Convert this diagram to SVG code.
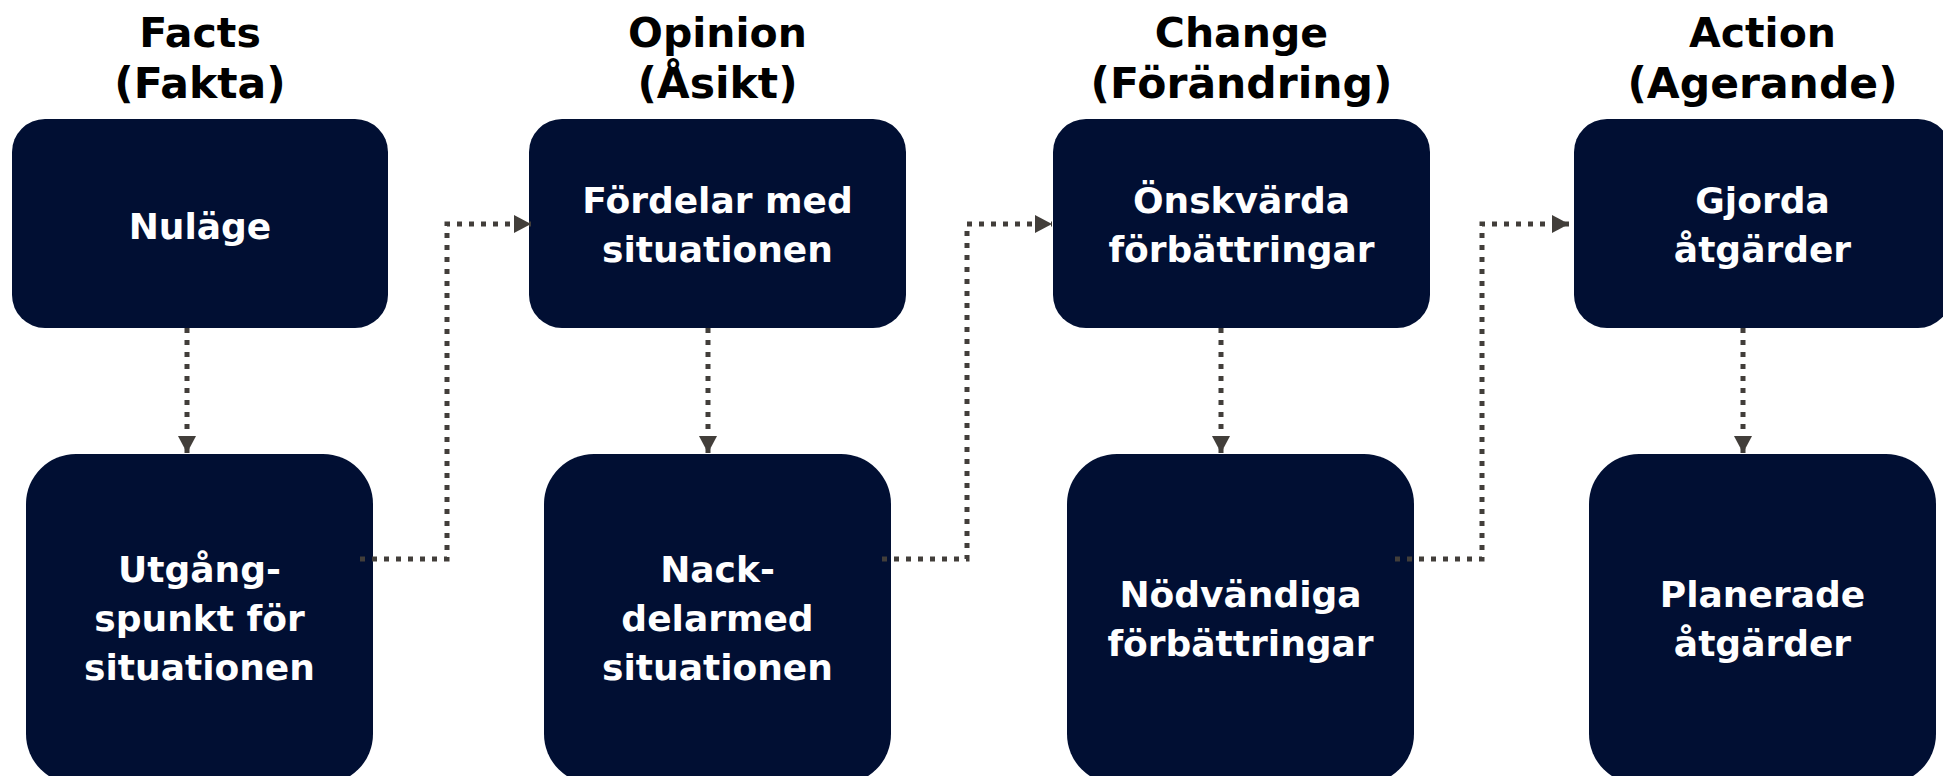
<svg xmlns="http://www.w3.org/2000/svg" width="1943" height="776" viewBox="0 0 1943 776">
<style>
.box{fill:#010f33;}
.t{font-family:"DejaVu Sans",Verdana,sans-serif;font-weight:bold;font-size:36px;fill:#ffffff;text-anchor:middle;}
.h{font-family:"DejaVu Sans",Verdana,sans-serif;font-weight:bold;font-size:41px;fill:#000000;text-anchor:middle;}
.h2{font-size:42.5px;}
.c{fill:none;stroke:#423e3a;stroke-width:5;stroke-dasharray:5 7;}
</style>
<defs>
<marker id="arr" markerUnits="userSpaceOnUse" markerWidth="18" markerHeight="18" refX="17" refY="9" orient="auto">
<path d="M0,0 L17,9 L0,18 Z" fill="#423e3a"/>
</marker>
</defs>
<rect width="1943" height="776" fill="#ffffff"/>
<g id="titles">
<text class="h" x="200" y="47">Facts</text>
<text class="h h2" x="200" y="98">(Fakta)</text>
<text class="h" x="717.5" y="47">Opinion</text>
<text class="h h2" x="717.5" y="98">(Åsikt)</text>
<text class="h" x="1241.5" y="47">Change</text>
<text class="h h2" x="1241.5" y="98">(Förändring)</text>
<text class="h" x="1762.5" y="47">Action</text>
<text class="h h2" x="1762.5" y="98">(Agerande)</text>
</g>
<g id="n1">
<rect class="box" x="12" y="119" width="376" height="209" rx="33"/>
<text class="t" x="200" y="239">Nuläge</text>
</g>
<g id="n2">
<rect class="box" x="529" y="119" width="377" height="209" rx="33"/>
<text class="t" x="717.5" y="213">Fördelar med</text>
<text class="t" x="717.5" y="262">situationen</text>
</g>
<g id="n3">
<rect class="box" x="1053" y="119" width="377" height="209" rx="33"/>
<text class="t" x="1241.5" y="213">Önskvärda</text>
<text class="t" x="1241.5" y="262">förbättringar</text>
</g>
<g id="n4">
<rect class="box" x="1574" y="119" width="377" height="209" rx="33"/>
<text class="t" x="1762.5" y="213">Gjorda</text>
<text class="t" x="1762.5" y="262">åtgärder</text>
</g>
<g id="n5">
<rect class="box" x="26" y="454" width="347" height="330" rx="50"/>
<text class="t" x="199.5" y="582">Utgång-</text>
<text class="t" x="199.5" y="631">spunkt för</text>
<text class="t" x="199.5" y="680">situationen</text>
</g>
<g id="n6">
<rect class="box" x="544" y="454" width="347" height="330" rx="50"/>
<text class="t" x="717.5" y="582">Nack-</text>
<text class="t" x="717.5" y="631">delarmed</text>
<text class="t" x="717.5" y="680">situationen</text>
</g>
<g id="n7">
<rect class="box" x="1067" y="454" width="347" height="330" rx="50"/>
<text class="t" x="1240.5" y="607">Nödvändiga</text>
<text class="t" x="1240.5" y="656">förbättringar</text>
</g>
<g id="n8">
<rect class="box" x="1589" y="454" width="347" height="330" rx="50"/>
<text class="t" x="1762.5" y="607">Planerade</text>
<text class="t" x="1762.5" y="656">åtgärder</text>
</g>
<g id="connectors">
<path class="c" d="M187,328 V453" marker-end="url(#arr)"/>
<path class="c" d="M708,328 V453" marker-end="url(#arr)"/>
<path class="c" d="M1221,328 V453" marker-end="url(#arr)"/>
<path class="c" d="M1743,328 V453" marker-end="url(#arr)"/>
<path class="c" d="M360,559 H447 V224 H531" marker-end="url(#arr)"/>
<path class="c" d="M882,559 H967 V224 H1052" marker-end="url(#arr)"/>
<path class="c" d="M1395,559 H1482 V224 H1569" marker-end="url(#arr)"/>
</g>
</svg>
